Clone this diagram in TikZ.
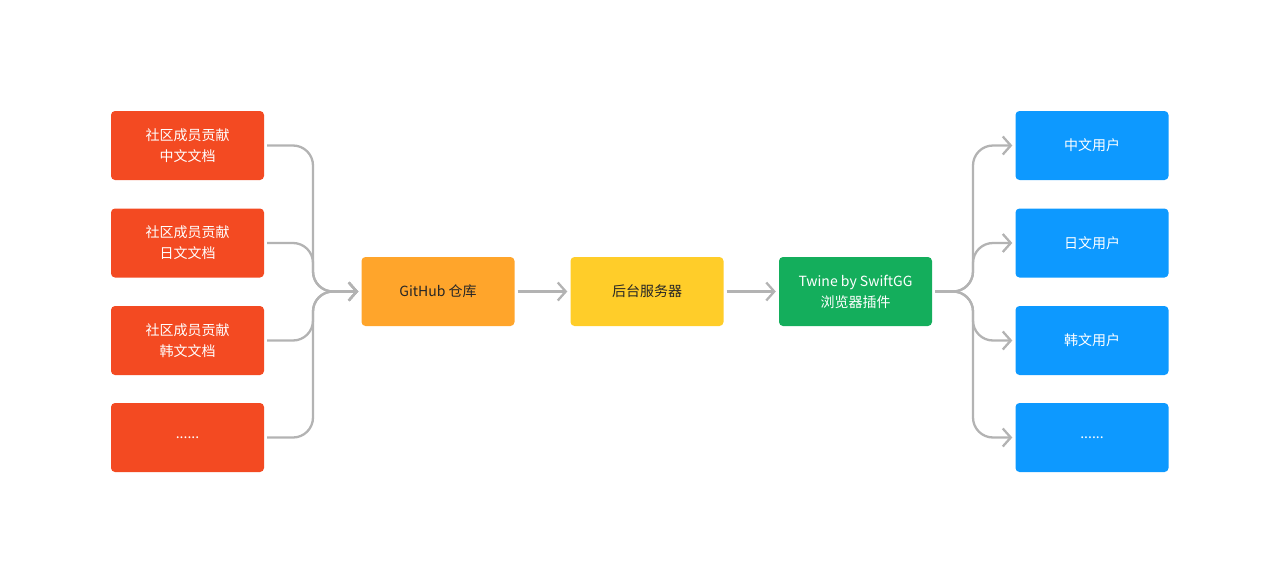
\documentclass[tikz,border=0pt]{standalone}
\usepackage{fontspec}
\setmainfont{Noto Sans CJK SC}
\usetikzlibrary{arrows.meta}

\definecolor{docred}{HTML}{F34A22}
\definecolor{gitorange}{HTML}{FFA52B}
\definecolor{srvyellow}{HTML}{FFCD29}
\definecolor{twgreen}{HTML}{14AE5C}
\definecolor{usrblue}{HTML}{0D99FF}
\definecolor{flowgray}{HTML}{B3B3B3}

\begin{document}
\begin{tikzpicture}[x = 1pt, y = -1pt, every node/.style = {rectangle,
	rounded corners = 4pt, minimum width = 153pt, minimum height = 69pt,
	inner sep = 0pt, font = \fontsize{14}{21}\selectfont, align = center},
	flow/.style = {draw = flowgray, line width = 2.3pt, rounded corners = 20pt,
	-{Straight Barb[length = 8pt, width = 18pt, line width = 2.3pt]}}]

		\useasboundingbox (0, 0) rectangle (1280, 584);

		\node (doc1) at (187.5, 145.5) [fill = docred, text = white] {社区成员贡献\\中文文档};
		\node (doc2) at (187.5, 243)   [fill = docred, text = white] {社区成员贡献\\日文文档};
		\node (doc3) at (187.5, 340.5) [fill = docred, text = white] {社区成员贡献\\韩文文档};
		\node (doc4) at (187.5, 437.5) [fill = docred, text = white] {......};

		\node (git)  at (438, 291.5)   [fill = gitorange, text = black!85] {GitHub 仓库};
		\node (srv)  at (647, 291.5)   [fill = srvyellow, text = black!85] {后台服务器};
		\node (twn)  at (855.5, 291.5) [fill = twgreen, text = white] {Twine by SwiftGG\\浏览器插件};

		\node (usr1) at (1092, 145.5)  [fill = usrblue, text = white] {中文用户};
		\node (usr2) at (1092, 243)    [fill = usrblue, text = white] {日文用户};
		\node (usr3) at (1092, 340.5)  [fill = usrblue, text = white] {韩文用户};
		\node (usr4) at (1092, 437.5)  [fill = usrblue, text = white] {......};

		\coordinate (jin)  at (313, 291.5);
		\coordinate (jout) at (973, 291.5);

	    \foreach \from in {doc1, doc2, doc3, doc4}
	    	\draw [flow, shorten <= 3pt, shorten >= 3pt] (\from.east) -| (jin) -- (git.west);

	    \foreach \from/\to in {git/srv, srv/twn}
	    	\draw [flow, shorten <= 3pt, shorten >= 3pt] (\from) -- (\to);

	    \foreach \to in {usr1, usr2, usr3, usr4}
	    	\draw [flow, shorten <= 3pt, shorten >= 3pt] (twn.east) -- (jout) |- (\to.west);

	\end{tikzpicture}
\end{document}
